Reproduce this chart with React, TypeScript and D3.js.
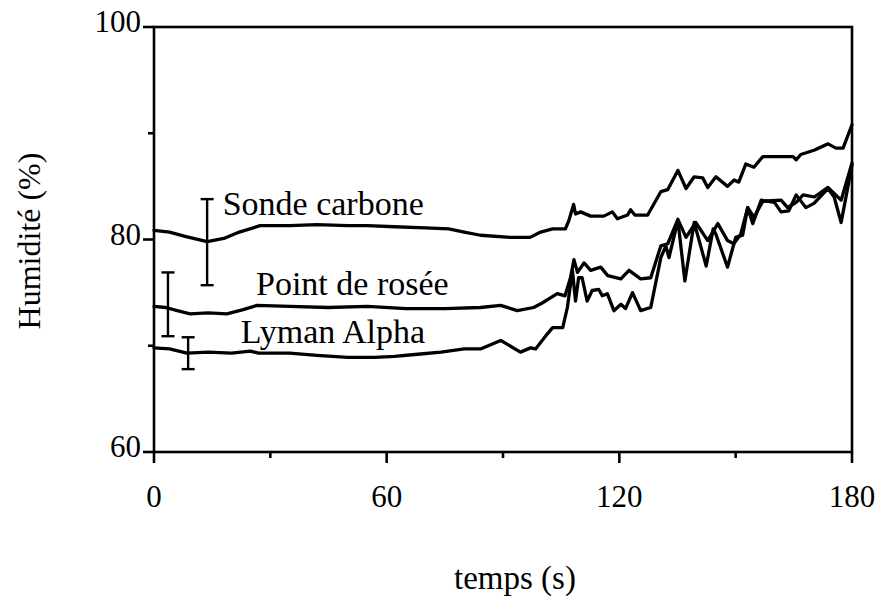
import React from "react";
import * as d3 from "d3";

// ---- data ----
const xTicksMajor = [0, 60, 120, 180];
const xTicksMinor = [30, 90, 150];
const yTicksMajor = [60, 80, 100];
const yTicksMinor = [70, 90];

const sondeT = [0, 4, 8, 13.7, 18, 22, 27.4, 35, 42, 50, 55, 62, 70, 76, 80, 84.2, 92, 97, 99.7, 102.8, 106.1, 107, 108.2, 108.7, 110, 112.6, 116, 118.2, 119.5, 122.1, 122.9, 124, 127.3, 130.7, 132.5, 135.1, 137.2, 139.3, 141.5, 142.8, 144.9, 147.9, 149.6, 150.8, 152.6, 154.7, 157, 164.8, 165.6, 166.8, 170.2, 173.8, 175.9, 177.7, 180];
const sondeV = [80.85, 80.7, 80.3, 79.8, 80.1, 80.7, 81.3, 81.3, 81.4, 81.3, 81.3, 81.2, 81.1, 81.0, 80.7, 80.4, 80.2, 80.2, 80.7, 81.0, 81.0, 81.8, 83.3, 82.4, 82.6, 82.2, 82.2, 82.6, 81.95, 82.3, 82.8, 82.3, 82.3, 84.5, 84.7, 86.5, 84.8, 85.9, 85.8, 84.9, 85.9, 85.0, 85.6, 85.4, 87.1, 86.8, 87.8, 87.8, 87.5, 88.0, 88.4, 89.0, 88.6, 88.6, 90.8];

const roseeT = [0, 3, 6, 9.3, 14, 18.8, 23, 26.6, 35, 45, 55, 65, 75, 84.2, 89.4, 93.7, 97.9, 100, 104, 106, 107.4, 108.3, 109.2, 110.9, 112.6, 115.2, 117, 120.4, 122.5, 125.5, 128.1, 130.7, 132.5, 135.1, 137.2, 139.7, 142.8, 145.4, 147.9, 149.5, 151.3, 153.1, 154.7, 157, 161.7, 163.4, 165.6, 167.4, 170.3, 173.8, 177.2, 180];
const roseeV = [73.7, 73.6, 73.3, 73.0, 73.1, 73.0, 73.4, 73.8, 73.7, 73.6, 73.7, 73.5, 73.5, 73.6, 73.8, 73.3, 73.6, 74.0, 74.9, 74.7, 76.4, 78.1, 76.9, 77.8, 77.1, 77.4, 76.6, 76.3, 77.1, 76.3, 76.4, 79.4, 79.6, 81.9, 80.2, 81.6, 79.9, 81.5, 79.9, 79.6, 80.5, 83.0, 82.1, 83.6, 83.7, 83.0, 83.5, 84.2, 84.0, 84.9, 83.7, 87.2];

const lymanT = [0, 4, 8.5, 14, 20, 24.8, 27, 35, 42, 50, 57, 62, 68, 74, 80, 84.2, 89.4, 94.5, 97.1, 98.4, 101.4, 102.8, 105.4, 106.6, 107.9, 108.7, 109.5, 110.4, 111.7, 113, 114.7, 115.6, 116.9, 118.6, 120.4, 121.6, 123.4, 125.5, 128.1, 130.7, 132, 132.8, 135.1, 136.9, 139.3, 142.4, 144.2, 144.9, 147.9, 150, 151.8, 153.1, 154.4, 156.6, 160, 161.7, 163.7, 165.6, 168.1, 170.2, 173.8, 175.4, 177.2, 180];
const lymanV = [69.8, 69.7, 69.3, 69.4, 69.3, 69.5, 69.3, 69.3, 69.1, 68.9, 68.9, 69.0, 69.2, 69.4, 69.7, 69.7, 70.5, 69.4, 69.8, 69.7, 71.1, 71.7, 71.7, 73.6, 77.1, 74.2, 76.4, 76.4, 74.2, 75.2, 75.3, 74.7, 74.9, 73.3, 73.9, 73.5, 75.0, 73.3, 73.6, 78.3, 79.4, 78.3, 81.8, 76.1, 81.6, 77.5, 81.0, 80.5, 77.4, 80.2, 80.4, 83.0, 81.5, 83.7, 83.5, 82.6, 82.7, 84.2, 83.0, 83.4, 84.8, 84.0, 81.6, 87.0];

// error bars: [t, low, high]
const errT = [13.7, 3.6, 8.8];
const errLow = [75.7, 70.9, 67.8];
const errHigh = [83.8, 76.9, 70.8];

const seriesLabels = ["Sonde carbone", "Point de rosée", "Lyman Alpha"];
const labelT = [17.7, 26.3, 22.4];
const labelV = [82.3, 74.8, 70.3];

const xTitle = "temps (s)";
const yTitle = "Humidité (%)";

export default function App() {
  const W = 878, H = 600;
  const x = d3.scaleLinear().domain([0, 180]).range([154, 852]);
  const y = d3.scaleLinear().domain([60, 100]).range([452, 27]);
  const line = d3.line<[number, number]>().x(d => x(d[0])).y(d => y(d[1]));
  const mk = (t: number[], v: number[]) => t.map((tt, i) => [tt, v[i]] as [number, number]);
  const series = [mk(sondeT, sondeV), mk(roseeT, roseeV), mk(lymanT, lymanV)];
  const font = "'Liberation Serif', 'Times New Roman', serif";
  const sw = 2.6;
  return (
    <svg width={W} height={H} style={{ position: "absolute", left: 0, top: 0, background: "#fff" }}>
      <rect x={0} y={0} width={W} height={H} fill="#fff" />
      {series.map((s, i) => (
        <path key={i} d={line(s) || ""} fill="none" stroke="#000" strokeWidth={3.3} strokeLinejoin="round" strokeLinecap="round" />
      ))}
      {errT.map((t, i) => (
        <g key={i} stroke="#000" strokeWidth={2.4}>
          <line x1={x(t)} x2={x(t)} y1={y(errLow[i])} y2={y(errHigh[i])} />
          <line x1={x(t) - 6.5} x2={x(t) + 6.5} y1={y(errLow[i])} y2={y(errLow[i])} />
          <line x1={x(t) - 6.5} x2={x(t) + 6.5} y1={y(errHigh[i])} y2={y(errHigh[i])} />
        </g>
      ))}
      {/* frame */}
      <rect x={x(0)} y={y(100)} width={x(180) - x(0)} height={y(60) - y(100)} fill="none" stroke="#000" strokeWidth={sw} />
      {/* y ticks */}
      {yTicksMajor.map(v => (
        <line key={"ym" + v} x1={x(0) - 11} x2={x(0)} y1={y(v)} y2={y(v)} stroke="#000" strokeWidth={sw} />
      ))}
      {yTicksMinor.map(v => (
        <line key={"yn" + v} x1={x(0) - 6} x2={x(0)} y1={y(v)} y2={y(v)} stroke="#000" strokeWidth={sw} />
      ))}
      {/* x ticks */}
      {xTicksMajor.map(v => (
        <line key={"xm" + v} x1={x(v)} x2={x(v)} y1={y(60)} y2={y(60) + 11} stroke="#000" strokeWidth={sw} />
      ))}
      {xTicksMinor.map(v => (
        <line key={"xn" + v} x1={x(v)} x2={x(v)} y1={y(60)} y2={y(60) + 6} stroke="#000" strokeWidth={sw} />
      ))}
      {/* tick labels */}
      {yTicksMajor.map(v => (
        <text key={"yl" + v} x={x(0) - 13} y={y(v) + 5} textAnchor="end" fontFamily={font} fontSize={31} fill="#000">{v}</text>
      ))}
      {xTicksMajor.map(v => (
        <text key={"xl" + v} x={x(v)} y={507} textAnchor="middle" fontFamily={font} fontSize={31} fill="#000">{v}</text>
      ))}
      {/* series labels */}
      {seriesLabels.map((s, i) => (
        <text key={s} x={x(labelT[i])} y={y(labelV[i])} fontFamily={font} fontSize={34} fill="#000">{s}</text>
      ))}
      <text x={515} y={589} textAnchor="middle" fontFamily={font} fontSize={33} fill="#000">{xTitle}</text>
      <text transform={`translate(40,241) rotate(-90)`} textAnchor="middle" fontFamily={font} fontSize={32} fill="#000">{yTitle}</text>
    </svg>
  );
}
